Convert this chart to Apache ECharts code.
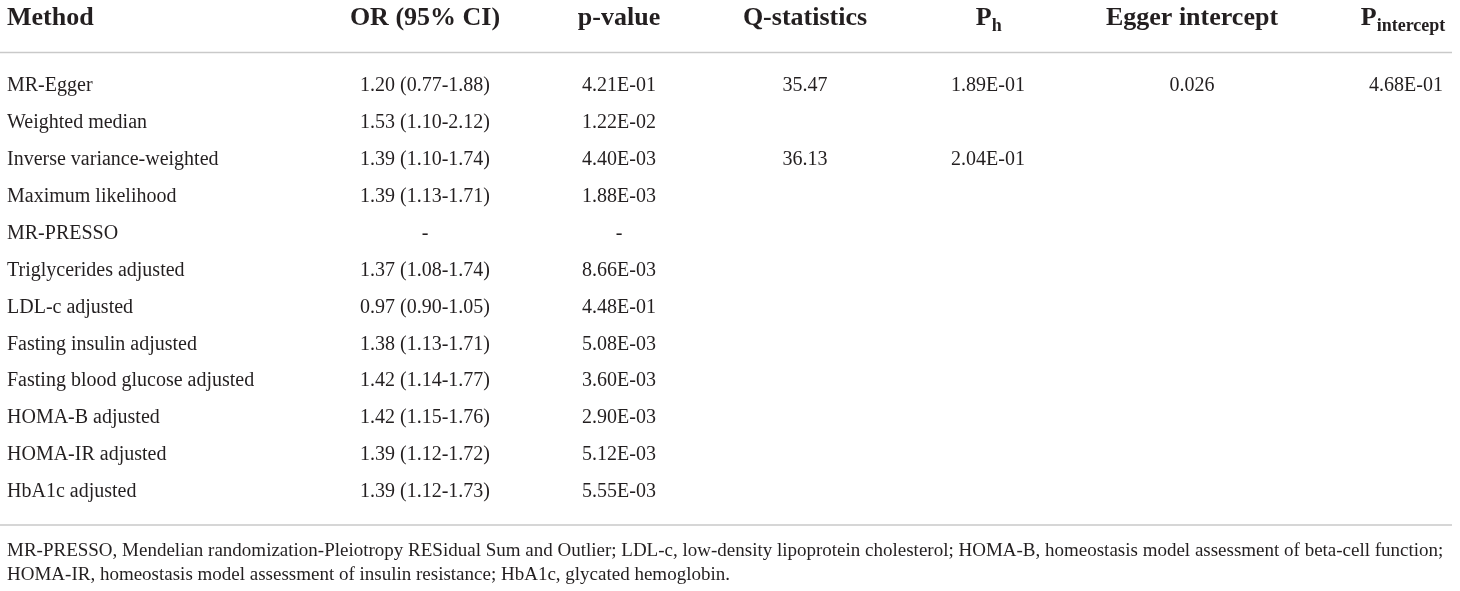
<!DOCTYPE html>
<html>
<head>
<meta charset="utf-8">
<script src="https://cdn.jsdelivr.net/npm/echarts@6/dist/echarts.min.js"></script>
<style>
  html, body { margin: 0; padding: 0; background: #fff; }
  #main { width: 1460px; height: 591px; }
</style>
</head>
<body>
<div id="main"></div>
<script>
// table data
const methods = [
  "MR-Egger", "Weighted median", "Inverse variance-weighted", "Maximum likelihood",
  "MR-PRESSO", "Triglycerides adjusted", "LDL-c adjusted", "Fasting insulin adjusted",
  "Fasting blood glucose adjusted", "HOMA-B adjusted", "HOMA-IR adjusted", "HbA1c adjusted"
];
const orCi = [
  "1.20 (0.77-1.88)", "1.53 (1.10-2.12)", "1.39 (1.10-1.74)", "1.39 (1.13-1.71)",
  "-", "1.37 (1.08-1.74)", "0.97 (0.90-1.05)", "1.38 (1.13-1.71)",
  "1.42 (1.14-1.77)", "1.42 (1.15-1.76)", "1.39 (1.12-1.72)", "1.39 (1.12-1.73)"
];
const pValue = [
  "4.21E-01", "1.22E-02", "4.40E-03", "1.88E-03", "-", "8.66E-03",
  "4.48E-01", "5.08E-03", "3.60E-03", "2.90E-03", "5.12E-03", "5.55E-03"
];
const qStat = ["35.47", "", "36.13", "", "", "", "", "", "", "", "", ""];
const pH = ["1.89E-01", "", "2.04E-01", "", "", "", "", "", "", "", "", ""];
const eggerIntercept = ["0.026", "", "", "", "", "", "", "", "", "", "", ""];
const pIntercept = ["4.68E-01", "", "", "", "", "", "", "", "", "", "", ""];
const headers = ["Method", "OR (95% CI)", "p-value", "Q-statistics", "P", "Egger intercept", "P"];
const subscripts = ["", "", "", "", "h", "", "intercept"];
const footnote = [
  "MR-PRESSO, Mendelian randomization-Pleiotropy RESidual Sum and Outlier; LDL-c, low-density lipoprotein cholesterol; HOMA-B, homeostasis model assessment of beta-cell function;",
  "HOMA-IR, homeostasis model assessment of insulin resistance; HbA1c, glycated hemoglobin."
];

// layout
const FONT = "'Liberation Serif', 'DejaVu Serif', serif";
const INK = "#231f20";
const colX = [7, 425, 619, 805, 988, 1192, 1406];
const columns = [null, orCi, pValue, qStat, pH, eggerIntercept, pIntercept];
const headY = 18.5;

let myChart = echarts.init(document.getElementById("main"));

let series = [];
columns.forEach((vals, c) => {
  if (!vals) return;
  series.push({
    type: "scatter",
    symbolSize: 1,
    itemStyle: { color: "rgba(255,255,255,0)" },
    silent: true,
    emphasis: { disabled: true },
    label: {
      show: true,
      position: "inside",
      formatter: "{b}",
      color: INK,
      opacity: 1,
      textBorderWidth: 0,
      fontFamily: FONT,
      fontSize: 20,
    },
    data: vals
      .map((v, i) => ({ name: v, value: [colX[c], methods[i]] }))
      .filter((d) => d.name !== ""),
  });
});

let graphics = [];
headers.forEach((h, c) => {
  let sub = subscripts[c];
  if (c === 0) {
    graphics.push({
      type: "text", x: colX[0], y: headY,
      style: { text: h, font: "bold 26px " + FONT, fill: INK, textVerticalAlign: "middle" },
    });
  } else if (!sub) {
    graphics.push({
      type: "text", x: colX[c], y: headY,
      style: { text: h, font: "bold 26px " + FONT, fill: INK, textAlign: "center", textVerticalAlign: "middle" },
    });
  } else {
    // P with a subscript, centred on the column
    let pw = 16;
    let sw = sub.length * 8.3;
    let left = colX[c] - (pw + sw) / 2;
    graphics.push({
      type: "text", x: left, y: headY,
      style: { text: h, font: "bold 26px " + FONT, fill: INK, textVerticalAlign: "middle" },
    });
    graphics.push({
      type: "text", x: left + pw, y: 26.5,
      style: { text: sub, font: "bold 18px " + FONT, fill: INK, textVerticalAlign: "middle" },
    });
  }
});
[52.5, 525].forEach((y) => {
  graphics.push({
    type: "line",
    shape: { x1: 0, y1: y, x2: 1452, y2: y },
    style: { stroke: "#c9c9c9", lineWidth: 1.5 },
  });
});
footnote.forEach((t, i) => {
  graphics.push({
    type: "text", x: colX[0], y: 551 + i * 24,
    style: { text: t, font: "19px " + FONT, fill: INK, textVerticalAlign: "middle" },
  });
});

let option = {
  animation: false,
  grid: { left: 0, right: 0, top: 67.5, bottom: 80.7 },
  xAxis: { type: "value", min: 0, max: 1460, show: false },
  yAxis: {
    type: "category",
    data: methods,
    inverse: true,
    axisLine: { show: false },
    axisTick: { show: false },
    splitLine: { show: false },
    axisLabel: {
      inside: true,
      margin: colX[0],
      color: INK,
      fontFamily: FONT,
      fontSize: 20,
    },
  },
  series: series,
  graphic: graphics,
};
myChart.setOption(option);
window.onresize = function () {
  myChart.resize();
};
</script>
</body>
</html>
